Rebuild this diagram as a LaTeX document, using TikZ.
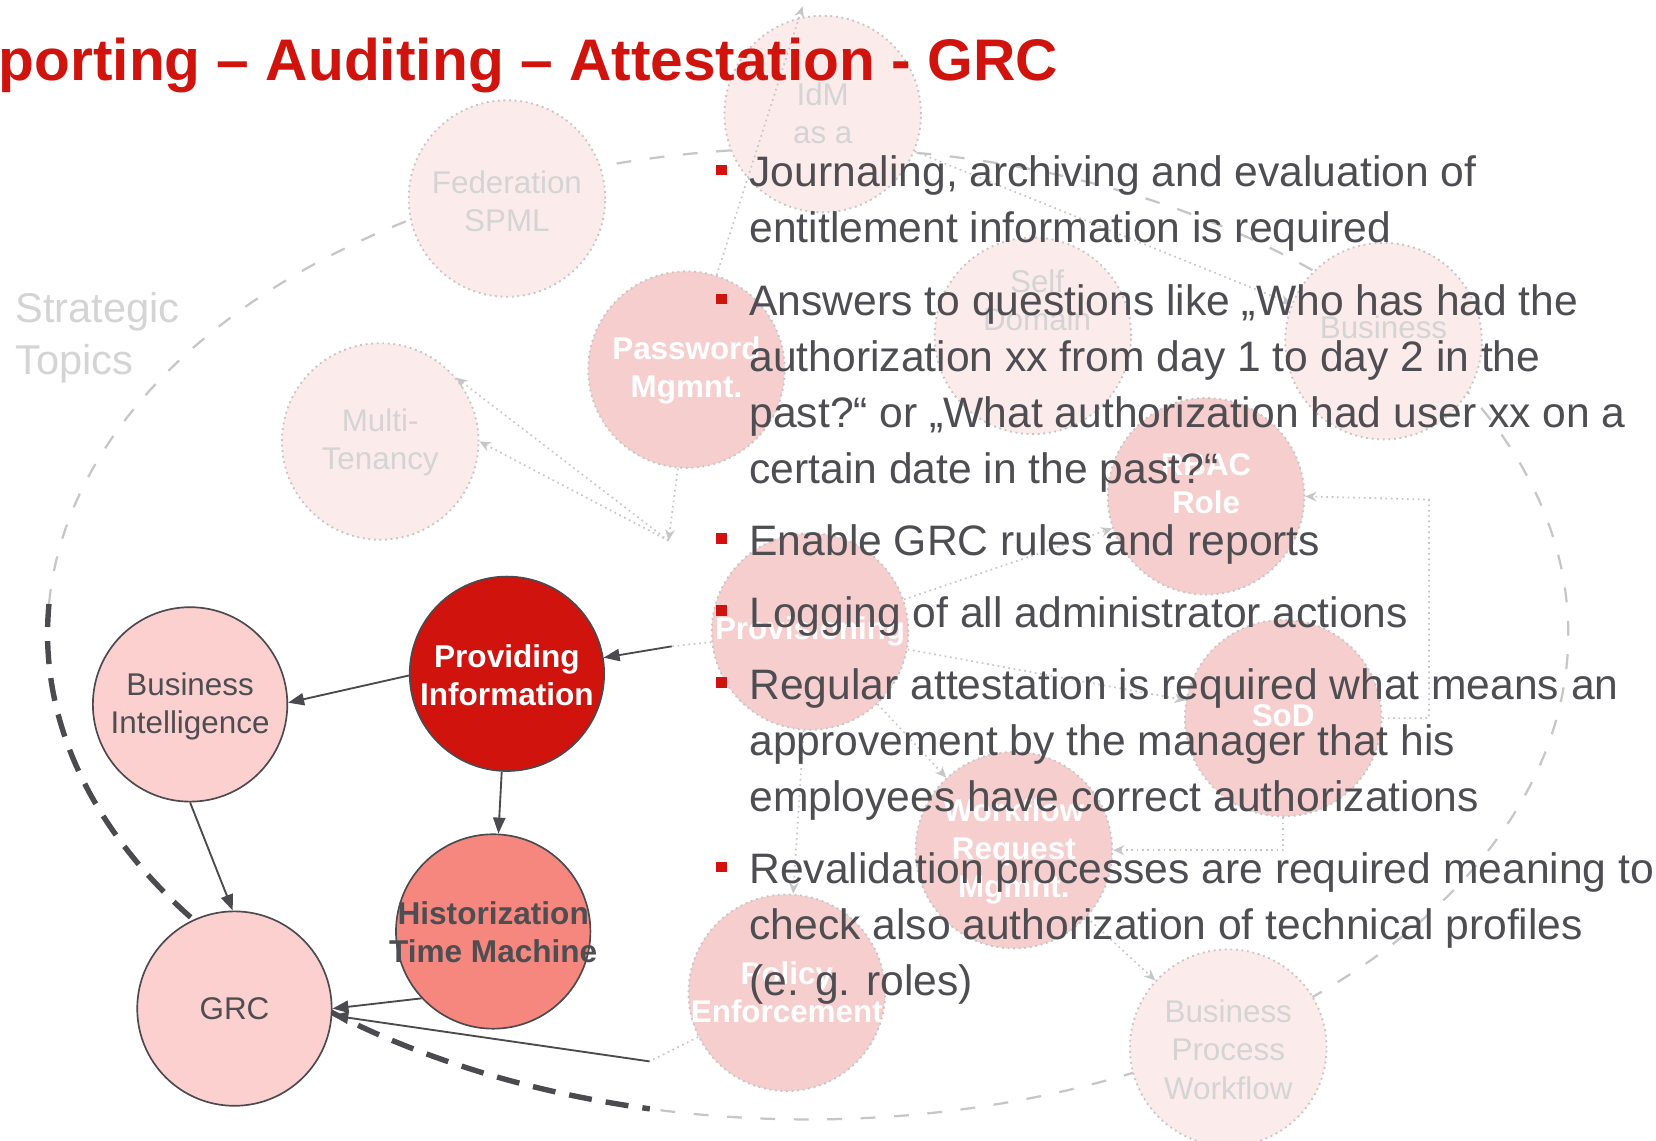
\documentclass[tikz,border=0pt]{standalone}
\usepackage{fontspec}
\setmainfont{Liberation Sans}
\usetikzlibrary{arrows.meta}
\definecolor{titlered}{RGB}{208,19,12}
\definecolor{txtgray}{RGB}{77,77,82}
\definecolor{fgpink}{RGB}{253,208,208}
\definecolor{salmon}{RGB}{246,135,127}
\definecolor{edgegray}{RGB}{74,74,79}
\definecolor{bgstrong}{RGB}{247,206,206}
\definecolor{bglight}{RGB}{252,235,235}
\definecolor{bgline}{RGB}{198,198,198}
\definecolor{bgtext}{RGB}{212,212,212}
\begin{document}
\begin{tikzpicture}[x=0.01cm, y=-0.01cm,
  fgcirc/.style={circle, draw=edgegray, line width=0.45pt, minimum size=1.84cm, inner sep=0pt},
  bgcirc/.style={circle, draw=bgline, densely dotted, line width=0.5pt, minimum size=1.86cm, inner sep=0pt},
  ntxt/.style={align=center, inner sep=0pt, font=\fontsize{8.45}{10.24}\selectfont},
  bgltxt/.style={ntxt, text=bgtext},
  bgstxt/.style={ntxt, text=white, font=\fontsize{8.45}{10.24}\selectfont\bfseries},
  btxt/.style={anchor=base west, inner sep=0pt, text=txtgray, font=\fontsize{11.47}{13}\selectfont},
  bul/.style={fill=titlered, minimum size=0.1cm, inner sep=0pt},
  fgedge/.style={draw=edgegray, line width=0.5pt, -{Triangle[length=4.3pt,width=3.3pt]}},
  bgedge/.style={draw=bgline, line width=0.45pt, densely dotted, -{Stealth[length=3pt,width=2.6pt]}},
  bgline/.style={draw=bgline, line width=0.45pt, densely dotted},
  bigdash/.style={draw=edgegray, line width=1.45pt, dash pattern=on 6.2pt off 3.8pt},
  faintdash/.style={draw=bgline, line width=0.6pt, dash pattern=on 4pt off 5pt}
]
\useasboundingbox (0,0) rectangle (1568,1080);
\fill[white] (0,0) rectangle (1568,1080);
\clip (0,0) rectangle (1568,1080);

% faint strategic ellipse
\draw[faintdash] plot[domain=183.5:462, samples=220, variable=\t] ({765+720*cos(\t)}, {600+460*sin(\t)});

% background circles
\node[bgcirc, fill=bglight] (idm) at (779,108) {};
\node[bgcirc, fill=bglight] (fed) at (480,188) {};
\node[bgcirc, fill=bglight] (mt) at (360,418) {};
\node[bgcirc, fill=bgstrong] (pw) at (650,350) {};
\node[bgcirc, fill=bglight] (self) at (978,318) {};
\node[bgcirc, fill=bglight] (bus) at (1310,323) {};
\node[bgcirc, fill=bgstrong] (rbac) at (1142,470) {};
\node[bgcirc, fill=bgstrong] (prov) at (767,598) {};
\node[bgcirc, fill=bgstrong] (sod) at (1215,680) {};
\node[bgcirc, fill=bgstrong] (wf) at (960,805) {};
\node[bgcirc, fill=bgstrong] (pol) at (745,940) {};
\node[bgcirc, fill=bglight] (bpw) at (1163,992) {};

\node[bgltxt] (idmT) at (779,107) {IdM\\as a};
\node[bgltxt] (fedT) at (480,191) {Federation\\SPML};
\node[bgltxt] (mtT) at (360,419) {Multi-\\Tenancy};
\node[bgstxt] (pwT) at (650,351) {Password\\Mgmnt.};
\node[bgltxt] (selfT) at (982,284) {Self\\Domain};
\node[bgltxt] (busT) at (1310,310) {Business};
\node[bgstxt] (rbacT) at (1142,458) {RBAC\\Role};
\node[bgstxt] (provT) at (767,598) {Provisioning};
\node[bgstxt] (sodT) at (1215,678) {SoD};
\node[bgstxt] (wfT) at (960,806) {Workflow\\Request\\Mgmnt.};
\node[bgstxt] (polT) at (745,940) {Policy\\Enforcement};
\node[bgltxt] (bpwT) at (1163,994) {Business\\Process\\Workflow};

% faint connectors
\coordinate (idmtop) at (760,6);
\coordinate (conv) at (633,512);
\coordinate (rbr) at (1353,473);
\coordinate (pin) at (636,612);
\coordinate (pe) at (615,1005);
\draw[bgedge] (pw) -- (idmtop);
\draw[bgedge] (conv) -- (mt.0);
\draw[bgedge] (conv) -- (mt.40);
\draw[bgedge] (pw.265) -- (conv);
\draw[bgedge] (prov) -- (rbac);
\draw[bgedge] (prov) -- (sod);
\draw[bgedge] (prov) -- (wf);
\draw[bgedge] (prov) -- (pol);
\draw[bgedge] (sod.east) -| (rbr) -- (rbac.east);
\draw[bgedge] (sod.south) |- (wf.east);
\draw[bgedge] (wf) -- (bpw);
\draw[bgedge] (idm) -- (bus);
\draw[bgline] (prov) -- (pin);
\draw[bgline] (pol) -- (pe);

% Strategic Topics label
\node[anchor=base west, inner sep=0pt, text=bgtext, font=\fontsize{11.2}{13.9}\selectfont] (strat1) at (14,305) {Strategic};
\node[anchor=base west, inner sep=0pt, text=bgtext, font=\fontsize{11.2}{13.9}\selectfont] (strat2) at (14,355) {Topics};

% foreground dashed arc
\draw[bigdash] plot[domain=183.5:102, samples=90, variable=\t] ({765+720*cos(\t)}, {600+460*sin(\t)});

% foreground circles
\node[fgcirc, fill=fgpink] (bi) at (180,667) {};
\node[fgcirc, fill=titlered] (pi) at (480,638) {};
\node[fgcirc, fill=salmon] (hist) at (467,882) {};
\node[fgcirc, fill=fgpink] (grc) at (222,955) {};

\node[ntxt, text=txtgray] (biT) at (180,669) {Business\\Intelligence};
\node[ntxt, text=white, font=\fontsize{8.5}{10.24}\selectfont\bfseries] (piT) at (480,639) {Providing\\Information};
\node[ntxt, text=txtgray, font=\fontsize{8.5}{10.24}\selectfont\bfseries] (histT) at (467,883) {Historization\\Time Machine};
\node[ntxt, text=txtgray] (grcT) at (222,955) {GRC};

% foreground connectors
\draw[fgedge] (pin) -- (pi);
\draw[fgedge] (pi.181) -- (bi.1);
\draw[fgedge] (pi) -- (hist);
\draw[fgedge] (bi.270) -- (grc.91);
\draw[fgedge] (hist.223) -- (grc.0);
\draw[fgedge] (pe) -- (grc.356);

% title
\node[anchor=base west, inner sep=0pt, text=titlered, font=\fontsize{15.8}{18}\selectfont\bfseries] (title) at (-2,76) {porting – Auditing – Attestation - GRC};

% bullets
\node[bul] (b1) at (683,161) {};
\node[bul] (b2) at (683,283) {};
\node[bul] (b3) at (683,510) {};
\node[bul] (b4) at (683,578) {};
\node[bul] (b5) at (683,646) {};
\node[bul] (b6) at (683,821) {};

\node[btxt] (l1) at (709,177) {Journaling, archiving and evaluation of};
\node[btxt] (l2) at (709,230) {entitlement information is required};
\node[btxt] (l3) at (709,299) {Answers to questions like „Who has had the};
\node[btxt] (l4) at (709,352) {authorization xx from day 1 to day 2 in the};
\node[btxt] (l5) at (709,405) {past?“ or „What authorization had user xx on a};
\node[btxt] (l6) at (709,458) {certain date in the past?“};
\node[btxt] (l7) at (709,526) {Enable GRC rules and reports};
\node[btxt] (l8) at (709,594) {Logging of all administrator actions};
\node[btxt] (l9) at (709,662) {Regular attestation is required what means an};
\node[btxt] (l10) at (709,715) {approvement by the manager that his};
\node[btxt] (l11) at (709,768) {employees have correct authorizations};
\node[btxt] (l12) at (709,837) {Revalidation processes are required meaning to};
\node[btxt] (l13) at (709,890) {check also authorization of technical profiles};
\node[btxt] (l14) at (709,943) {(e. g. roles)};
\end{tikzpicture}
\end{document}
